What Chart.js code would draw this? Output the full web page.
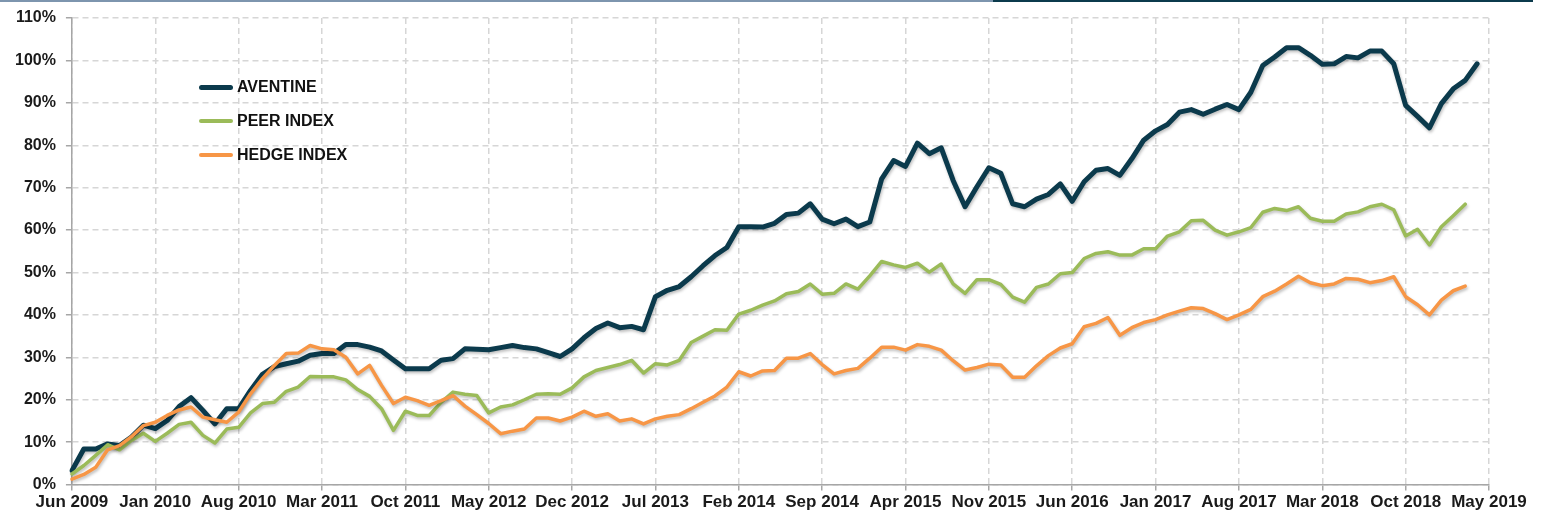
<!DOCTYPE html>
<html>
<head>
<meta charset="utf-8">
<script src="https://cdn.jsdelivr.net/npm/chart.js@4"></script>
<style>
    body { margin: 0; background: #fff; }
    #wrap { position: relative; width: 1543px; height: 515px; }
    .topline { position: absolute; top: 0; height: 2px; }
    #legend { position: absolute; left: 199px; top: 70px; font: bold 16px "Liberation Sans", Arial, sans-serif; color: #111; }
    #legend .row { display: flex; align-items: center; height: 34px; }
    #legend .swatch { width: 34px; border-radius: 3px; margin-right: 4px; }
</style>
</head>
<body>
<div id="wrap">
    <div class="topline" style="left:0;width:993px;background:#7d95ae;"></div>
    <div class="topline" style="left:993px;width:540px;background:#0b3a4c;"></div>
    <canvas id="chart1"></canvas>
    <div id="legend"></div>
</div>
<script>
// подписи по оси X (каждые 7 месяцев)
const tickLabels = ['Jun 2009', 'Jan 2010', 'Aug 2010', 'Mar 2011', 'Oct 2011', 'May 2012', 'Dec 2012',
    'Jul 2013', 'Feb 2014', 'Sep 2014', 'Apr 2015', 'Nov 2015', 'Jun 2016', 'Jan 2017', 'Aug 2017',
    'Mar 2018', 'Oct 2018', 'May 2019'];
const yTicks = [0, 10, 20, 30, 40, 50, 60, 70, 80, 90, 100, 110];

// месячные категории Jun 2009 .. May 2019
const monthNames = ['Jan', 'Feb', 'Mar', 'Apr', 'May', 'Jun', 'Jul', 'Aug', 'Sep', 'Oct', 'Nov', 'Dec'];
const months = [];
for (let m = 5; m <= 5 + 119; m++) {
    months.push(monthNames[m % 12] + ' ' + (2009 + Math.floor(m / 12)));
}

const aventine = [
    3.3, 8.4, 8.4, 9.6, 9.2, 11.2, 14, 13.2, 15.1, 18.4,
    20.5, 17.5, 14.3, 17.9, 17.9, 22.2, 26, 27.8, 28.5, 29.1,
    30.5, 30.9, 30.9, 33, 33, 32.4, 31.5, 29.4, 27.3, 27.3,
    27.3, 29.3, 29.7, 32, 31.9, 31.8, 32.3, 32.8, 32.3, 32,
    31.1, 30.2, 32, 34.6, 36.8, 38.1, 37, 37.3, 36.5, 44.3,
    45.8, 46.7, 49, 51.6, 54, 55.9, 60.8, 60.8, 60.7, 61.6,
    63.7, 64, 66.2, 62.6, 61.5, 62.6, 60.8, 61.9, 72.1, 76.4,
    75, 80.5, 78, 79.4, 71.7, 65.5, 70.2, 74.7, 73.4, 66.2,
    65.5, 67.3, 68.4, 70.9, 66.8, 71.4, 74.1, 74.5, 72.9, 76.8,
    81.2, 83.4, 84.9, 87.8, 88.4, 87.3, 88.5, 89.6, 88.4, 92.5,
    98.8, 100.8, 103, 103, 101.2, 99.1, 99.2, 100.9, 100.6, 102.2,
    102.2, 99.2, 89.4, 86.8, 84.1, 89.8, 93.3, 95.3, 99.2
];
const peerIndex = [
    2.5, 4.5, 6.9, 9.4, 8.2, 10.4, 12.1, 10.2, 12.1, 14.2,
    14.7, 11.6, 9.8, 13.1, 13.5, 16.9, 19.1, 19.4, 22, 23,
    25.5, 25.4, 25.4, 24.7, 22.4, 20.8, 17.9, 12.8, 17.3, 16.3,
    16.3, 19.4, 21.8, 21.3, 21, 16.9, 18.3, 18.8, 20, 21.3,
    21.4, 21.3, 22.8, 25.4, 26.9, 27.6, 28.3, 29.3, 26.3, 28.5,
    28.2, 29.3, 33.5, 35, 36.5, 36.4, 40.2, 41.1, 42.3, 43.3,
    45, 45.5, 47.3, 44.9, 45.1, 47.3, 46.1, 49.2, 52.6, 51.8,
    51.2, 52.2, 50.1, 52, 47.3, 45.1, 48.3, 48.3, 47.2, 44.2,
    43, 46.5, 47.3, 49.7, 50, 53.3, 54.5, 54.9, 54.1, 54.1,
    55.6, 55.6, 58.6, 59.6, 62.2, 62.3, 60, 58.8, 59.6, 60.6,
    64.2, 65.1, 64.6, 65.5, 62.8, 62.1, 62.1, 63.8, 64.3, 65.5,
    66.1, 64.8, 58.6, 60.2, 56.5, 60.8, 63.4, 66.1
];
const hedgeIndex = [
    1.3, 2.4, 4.1, 8.2, 9.2, 11.3, 13.9, 14.7, 16.3, 17.6,
    18.3, 15.9, 15.3, 14.7, 17.1, 21.4, 25, 28.1, 30.9, 31,
    32.8, 32, 31.8, 30, 26.1, 28.1, 23.4, 19.1, 20.6, 19.8,
    18.7, 19.8, 21, 18.5, 16.5, 14.4, 12, 12.6, 13.1, 15.7,
    15.7, 15, 15.9, 17.3, 16.1, 16.7, 15, 15.5, 14.3, 15.5,
    16.1, 16.5, 17.9, 19.4, 20.9, 23, 26.6, 25.6, 26.8, 26.9,
    29.8, 29.8, 30.9, 28.3, 26.1, 26.9, 27.4, 29.8, 32.4, 32.4,
    31.7, 33, 32.6, 31.7, 29.2, 27, 27.6, 28.4, 28.2, 25.3,
    25.3, 28, 30.4, 32.2, 33.2, 37.2, 38, 39.4, 35.2, 37,
    38.2, 38.9, 40, 40.9, 41.7, 41.5, 40.3, 38.9, 40, 41.3,
    44.3, 45.6, 47.3, 49.1, 47.6, 46.9, 47.3, 48.6, 48.4, 47.6,
    48.1, 49, 44.3, 42.4, 40, 43.5, 45.7, 46.8
];

const gridColor = '#d6d6d6';
const axisColor = '#a6a6a6';
const fontFamily = '"Liberation Sans", Arial, sans-serif';

// тень под линиями
const shadowPlugin = {
    id: 'lineShadow',
    beforeDatasetDraw(chart) {
        const ctx = chart.ctx;
        ctx.save();
        ctx.shadowColor = 'rgba(0,0,0,0.25)';
        ctx.shadowBlur = 3;
        ctx.shadowOffsetX = 1;
        ctx.shadowOffsetY = 2;
    },
    afterDatasetDraw(chart) {
        chart.ctx.restore();
    }
};

document.addEventListener('DOMContentLoaded', () => {
    const canvas = document.getElementById('chart1');
    const chart = new Chart(canvas.getContext('2d'), {
        type: 'line',
        data: {
            labels: months,
            datasets: [
                { label: 'AVENTINE', data: aventine, borderColor: '#0b3a4c', borderWidth: 5, order: 3 },
                { label: 'PEER INDEX', data: peerIndex, borderColor: '#9bbb59', borderWidth: 3.5, order: 2 },
                { label: 'HEDGE INDEX', data: hedgeIndex, borderColor: '#f79646', borderWidth: 3.5, order: 1 }
            ].map(d => Object.assign(d, { pointRadius: 0, tension: 0, fill: false, borderJoinStyle: 'round', borderCapStyle: 'round' }))
        },
        plugins: [shadowPlugin],
        options: {
            responsive: true,
            maintainAspectRatio: false,
            animation: false,
            layout: { padding: { left: 5, right: 54, top: 2, bottom: 0 } },
            plugins: {
                legend: { display: false },
                tooltip: { enabled: false }
            },
            scales: {
                x: {
                    offset: false,
                    grid: {
                        color: c => (c.index % 7 === 0 ? gridColor : 'transparent'),
                        lineWidth: 1.5,
                        tickColor: c => (c.index % 7 === 0 ? axisColor : 'transparent'),
                        tickLength: 6,
                        tickWidth: 1.5
                    },
                    border: { display: true, color: axisColor, width: 1.5, dash: [6, 4] },
                    ticks: {
                        autoSkip: false,
                        maxRotation: 0,
                        padding: 2,
                        color: '#1a1a1a',
                        font: { family: fontFamily, size: 17, weight: 'bold' },
                        callback: function (value, index) {
                            return index % 7 === 0 ? tickLabels[index / 7] : '';
                        }
                    }
                },
                y: {
                    min: 0,
                    max: 110,
                    afterBuildTicks: axis => { axis.ticks = yTicks.map(v => ({ value: v })); },
                    grid: { color: gridColor, lineWidth: 1.5, tickColor: axisColor, tickLength: 6, tickWidth: 1.5 },
                    border: { display: true, color: axisColor, width: 1.5, dash: [6, 4] },
                    ticks: {
                        padding: 10,
                        color: '#1a1a1a',
                        font: { family: fontFamily, size: 16, weight: 'bold', lineHeight: 1 },
                        callback: function (value) {
                            return value + '%';
                        }
                    }
                }
            }
        }
    });

    // легенда внутри области графика
    const legend = document.getElementById('legend');
    chart.data.datasets.forEach(ds => {
        const row = document.createElement('div');
        row.className = 'row';
        const sw = document.createElement('span');
        sw.className = 'swatch';
        sw.style.background = ds.borderColor;
        sw.style.height = (ds.borderWidth === 5 ? 5 : 4) + 'px';
        const txt = document.createElement('span');
        txt.textContent = ds.label;
        row.appendChild(sw);
        row.appendChild(txt);
        legend.appendChild(row);
    });
});
</script>
</body>
</html>
